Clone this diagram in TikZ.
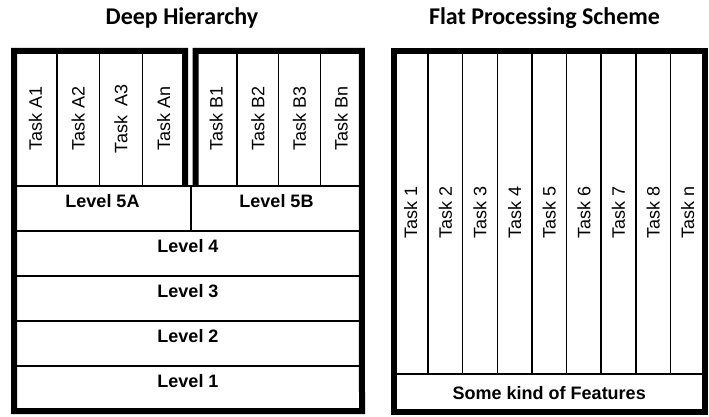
\documentclass[tikz,border=0pt]{standalone}
\usepackage{fontspec}
\setmainfont{Liberation Sans}
\newfontfamily\headfont{Carlito}
\usepackage{tikz}
\usetikzlibrary{fit}
\tikzstyle{task}=[draw, line width=1.5pt, inner sep=0pt, outer sep=0pt,
  rotate=90, font=\fontsize{18}{20}\selectfont]
\tikzstyle{taska}=[task, minimum width=135pt, minimum height=42.75pt]
\tikzstyle{taskb}=[task, minimum width=135pt, minimum height=41.6pt]
\tikzstyle{taskf}=[task, minimum width=323pt, minimum height=34.61pt]
\tikzstyle{level}=[draw, line width=1.5pt, inner sep=0pt, outer sep=0pt,
  anchor=north west, font=\bfseries\fontsize{18}{20}\selectfont,
  text height=21pt, text depth=24pt]
\tikzstyle{frame}=[draw, line width=6pt, inner sep=0pt]
\tikzstyle{title}=[anchor=base, font=\headfont\bfseries\fontsize{24}{28}\selectfont]

\begin{document}
\begin{tikzpicture}[x=1pt, y=-1pt]
  \useasboundingbox (0,0) rectangle (709,417);

  \node(deep)[title] at (182,25) {Deep Hierarchy};
  \node(flat)[title] at (544.5,25) {Flat Processing Scheme};

  % deep hierarchy: task groups A and B
  \node(a1)[taska] at (35.4,118.5) {Task A1};
  \path(a1.center)+(42.75,0) node(a2)[taska]{Task A2};
  \path(a2.center)+(42.75,0) node(a3)[taska]{Task\ \ A3};
  \path(a3.center)+(42.75,0) node(a4)[taska]{Task An};

  \node(b1)[taskb] at (216.3,118.5) {Task B1};
  \path(b1.center)+(41.6,0) node(b2)[taskb]{Task B2};
  \path(b2.center)+(41.6,0) node(b3)[taskb]{Task B3};
  \path(b3.center)+(41.6,0) node(b4)[taskb]{Task Bn};

  % levels
  \node(l5a)[level, minimum width=177pt] at (14,186) {Level 5A};
  \node(l5b)[level, minimum width=171pt] at (l5a.north east) {Level 5B};
  \node(l4)[level, minimum width=348pt] at (l5a.south west) {Level 4};
  \node(l3)[level, minimum width=348pt] at (l4.south west) {Level 3};
  \node(l2)[level, minimum width=348pt] at (l3.south west) {Level 2};
  \node(l1)[level, minimum width=348pt] at (l2.south west) {Level 1};

  % thick outline (task nodes are rotated, so their anchors turn too)
  \draw[frame] (a4.south west) -- (a4.south east) -- (a1.north east)
  -- (l1.south west) -- (l1.south east) -- (b4.south east)
  -- (b1.north east) -- (b1.north west);

  % flat processing scheme
  \node(t1)[taskf] at (410.8,212.5) {Task 1};
  \path(t1.center)+(34.61,0) node(t2)[taskf]{Task 2};
  \path(t2.center)+(34.61,0) node(t3)[taskf]{Task 3};
  \path(t3.center)+(34.61,0) node(t4)[taskf]{Task 4};
  \path(t4.center)+(34.61,0) node(t5)[taskf]{Task 5};
  \path(t5.center)+(34.61,0) node(t6)[taskf]{Task 6};
  \path(t6.center)+(34.61,0) node(t7)[taskf]{Task 7};
  \path(t7.center)+(34.61,0) node(t8)[taskf]{Task 8};
  \path(t8.center)+(34.61,0) node(tn)[taskf]{Task n};

  \node(feat)[draw, line width=1.5pt, inner sep=0pt, outer sep=0pt,
    anchor=north west, minimum width=311.5pt, minimum height=38pt,
    font=\bfseries\fontsize{18}{20}\selectfont] at (t1.north west)
    {Some kind of Features};

  \node(flatbox)[frame, fit=(t1)(tn)(feat)]{};
\end{tikzpicture}
\end{document}
